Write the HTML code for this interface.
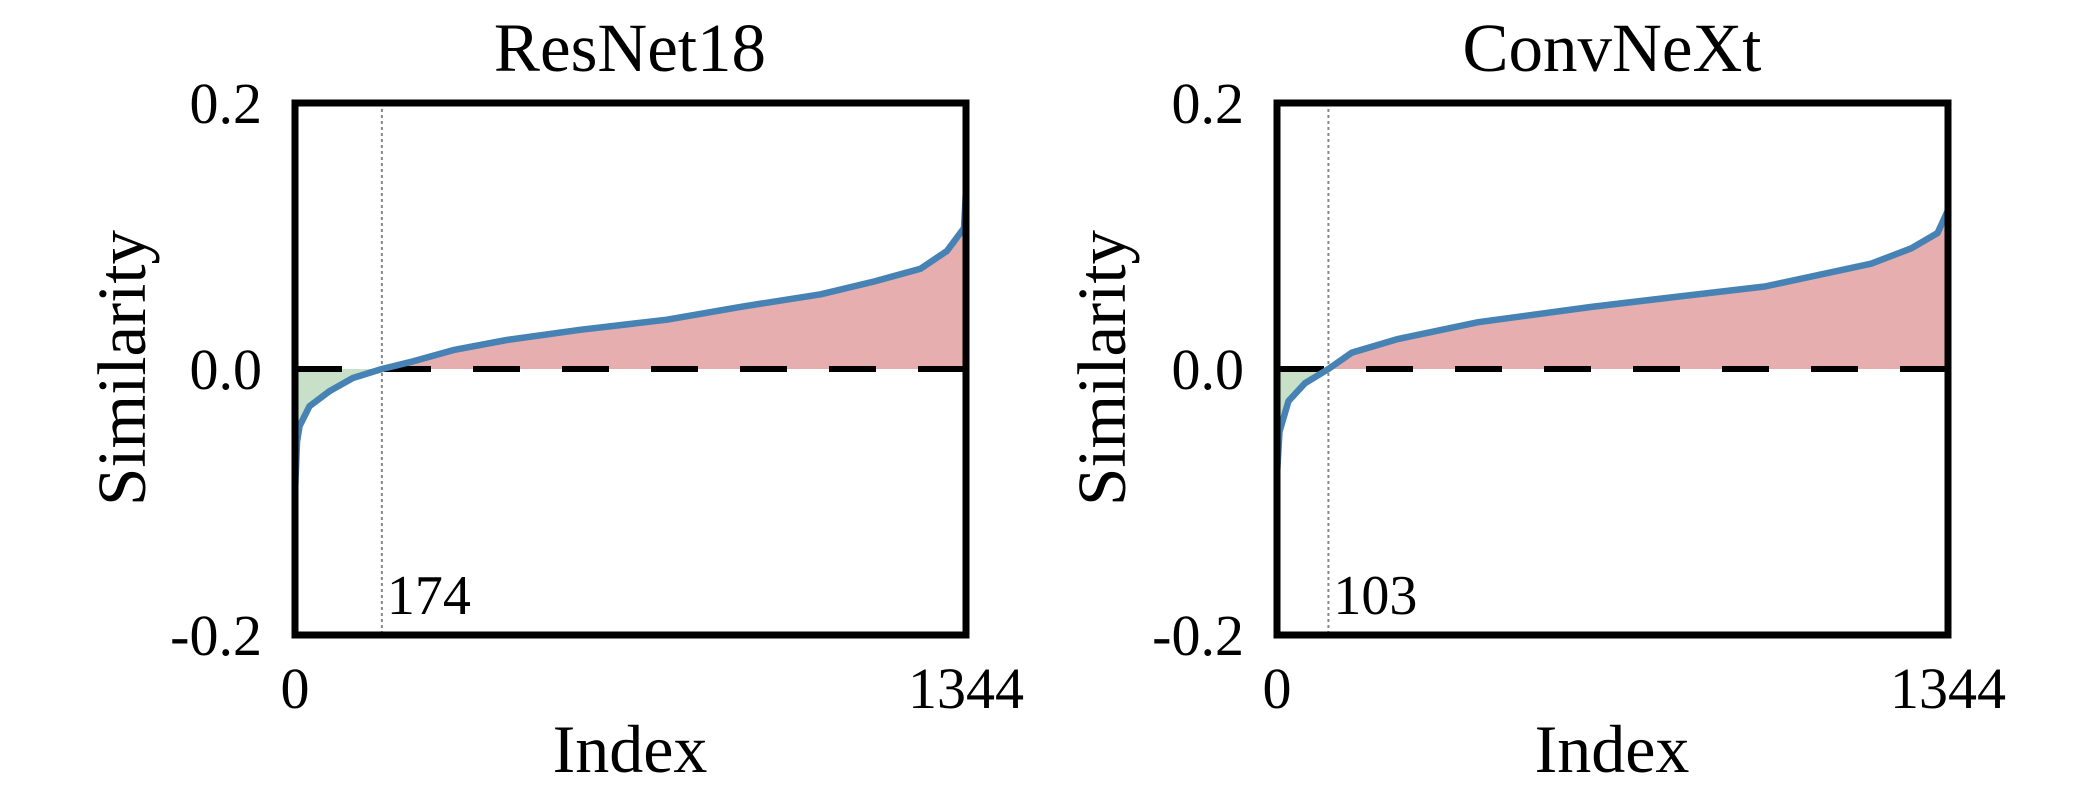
<!DOCTYPE html>
<html><head><meta charset="utf-8"><style>
html,body{margin:0;padding:0;background:#fff;}
svg{display:block;font-family:"Liberation Serif","Times New Roman",serif;}
</style></head><body>
<svg id="chart" width="2090" height="798" viewBox="0 0 2090 798" xmlns="http://www.w3.org/2000/svg"></svg>
<script>
const panelTitles = ["ResNet18", "ConvNeXt"];
const resnetIdx = [0, 4, 9, 29, 70, 116, 174, 237, 317, 424, 571, 745, 892, 1053, 1160, 1253, 1306, 1340, 1344];
const resnetVal = [-0.093, -0.055, -0.043, -0.028, -0.0165, -0.0068, 0, 0.0058, 0.0142, 0.0218, 0.0295, 0.0371, 0.0467, 0.0562, 0.0658, 0.0754, 0.0888, 0.106, 0.1347];
const convIdx = [0, 5, 23, 56, 103, 150, 243, 403, 630, 803, 977, 1190, 1270, 1323, 1344];
const convVal = [-0.0796, -0.047, -0.0241, -0.0107, 0, 0.0123, 0.0226, 0.0352, 0.0467, 0.0544, 0.062, 0.0792, 0.0907, 0.1022, 0.1194];
const crossIdx = [174, 103];
const yTickLabels = ["0.2", "0.0", "-0.2"];
const yTickValues = [0.2, 0, -0.2];
const xMax = 1344;

const NS = "http://www.w3.org/2000/svg";
const svg = document.getElementById("chart");
function mk(tag, attrs, parent) {
  const e = document.createElementNS(NS, tag);
  for (const k in attrs) e.setAttribute(k, attrs[k]);
  (parent || svg).appendChild(e);
  return e;
}
const panels = [
  {x0: 295, x1: 966, idx: resnetIdx, val: resnetVal, key: "resnet18", tx: 630, labX: 127},
  {x0: 1277, x1: 1948, idx: convIdx, val: convVal, key: "convnext", tx: 1612, labX: 1107}
];
const yTop = 103, yBot = 635;
panels.forEach((p, pi) => {
  const g = mk("g", {});
  
  
  const X = v => p.x0 + (v / xMax) * (p.x1 - p.x0);
  const Y = v => yBot - (v + 0.2) / 0.4 * (yBot - yTop);
  const y0 = Y(0);
  let neg = [], pos = [];
  p.idx.forEach((ix, i) => { const pt = X(ix).toFixed(1) + "," + Y(p.val[i]).toFixed(1); if (p.val[i] <= 0) neg.push(pt); if (p.val[i] >= 0) pos.push(pt); });
  const negLast = p.idx[p.val.findIndex(v => v >= 0)];
  const gf = mk("polygon", {points: X(0) + "," + y0 + " " + neg.join(" ") + " " + X(negLast) + "," + y0, fill: "#c8e0c8"}, g);
  
  
  const rf = mk("polygon", {points: pos.join(" ") + " " + X(xMax) + "," + y0, fill: "#e6aeae"}, g);
  
  
  const edge = mk("line", {x1: X(xMax) - 2, x2: X(xMax) - 2, y1: Y(p.val[p.val.length - 1]), y2: y0, stroke: "#6b2a2a", "stroke-width": 3}, g);
  
  
  const zl = mk("line", {x1: X(0), x2: X(xMax), y1: y0, y2: y0, stroke: "#000", "stroke-width": 6, "stroke-dasharray": "47 42"}, g);
  
  
  const cx = X(crossIdx[pi]);
  const vl = mk("line", {x1: cx, x2: cx, y1: yTop, y2: yBot, stroke: "#888", "stroke-width": 2, "stroke-dasharray": "3 3"}, g);
  
  
  const ct = mk("text", {x: cx + 5, y: 614, "font-size": 56}, g);
  ct.textContent = crossIdx[pi];
  
  
  const pts = p.idx.map((ix, i) => X(ix).toFixed(1) + "," + Y(p.val[i]).toFixed(1)).join(" ");
  const cl = mk("polyline", {points: pts, fill: "none", stroke: "#4682b4", "stroke-width": 6.5, "stroke-linejoin": "round"}, g);
  
  
  const fr = mk("rect", {x: p.x0, y: yTop, width: p.x1 - p.x0, height: yBot - yTop, fill: "none", stroke: "#000", "stroke-width": 7}, g);
  
  
  yTickValues.forEach((v, i) => {
    const t = mk("text", {x: p.x0 - 33, y: Y(v) + 20, "font-size": 58, "text-anchor": "end"}, g);
    t.textContent = yTickLabels[i];
    
    
  });
  [0, xMax].forEach(v => {
    const t = mk("text", {x: X(v), y: 708, "font-size": 58, "text-anchor": "middle"}, g);
    t.textContent = v;
    
    
  });
  const tt = mk("text", {x: p.tx, y: 71, "font-size": 69, "text-anchor": "middle"}, g);
  tt.textContent = panelTitles[pi];
  
  
  const xl = mk("text", {x: p.tx, y: 772, "font-size": 68, "text-anchor": "middle"}, g);
  xl.textContent = "Index";
  
  
  const yl = mk("text", {x: 0, y: 0, "font-size": 69, "text-anchor": "middle", transform: "translate(" + (p.labX + 18) + ",368) rotate(-90)"}, g);
  yl.textContent = "Similarity";
  
  
});
</script>
</body></html>
